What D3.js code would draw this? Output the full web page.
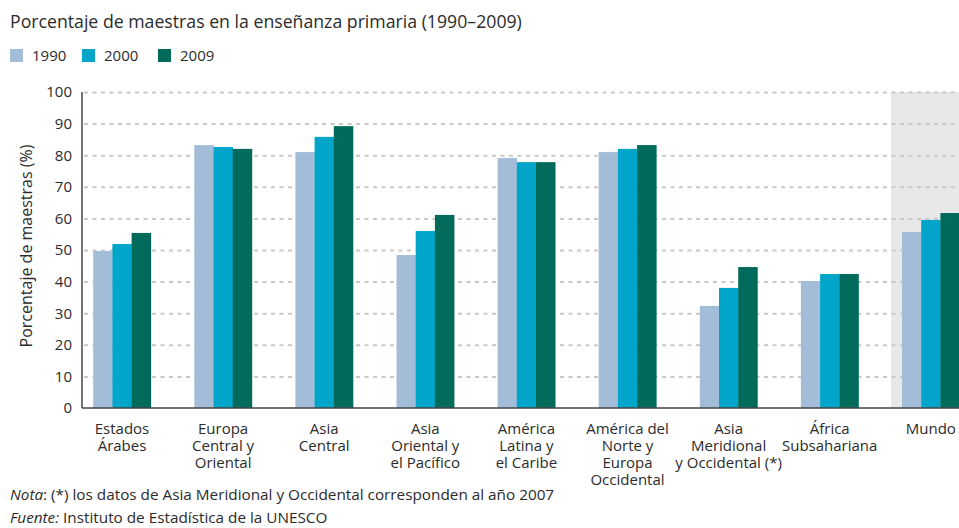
<!DOCTYPE html>
<html>
<head>
<meta charset="utf-8">
<script src="https://cdn.jsdelivr.net/npm/d3@7"></script>
<style>
  body { margin: 0; background: #fff; }
  text { font-family: "Open Sans", "DejaVu Sans", sans-serif; fill: #2b2b2b; }
</style>
</head>
<body>
<div id="area"></div>
<script>
// datos
var categorias = [
    ["Estados", "Árabes"],
    ["Europa", "Central y", "Oriental"],
    ["Asia", "Central"],
    ["Asia", "Oriental y", "el Pacífico"],
    ["América", "Latina y", "el Caribe"],
    ["América del", "Norte y", "Europa", "Occidental"],
    ["Asia", "Meridional", "y Occidental (*)"],
    ["África", "Subsahariana"],
    ["Mundo"]
];
var anios = ["1990", "2000", "2009"];
var colores = ["#a3bdd9", "#00a5c9", "#006b5b"];
var v1990 = [49.7, 83.2, 81.0, 48.4, 79.1, 81.0, 32.3, 40.2, 55.7];
var v2000 = [51.9, 82.6, 85.8, 56.0, 77.8, 82.0, 38.0, 42.4, 59.5];
var v2009 = [55.4, 82.0, 89.2, 61.1, 77.8, 83.2, 44.6, 42.4, 61.7];
var yTicks = [0, 10, 20, 30, 40, 50, 60, 70, 80, 90, 100];

var series = [v1990, v2000, v2009];
var nombres = categorias.map(function (c) { return c.join(" "); });

var width = 959, height = 528;
var margin = { top: 92, right: 959, bottom: 408, left: 82 };
var fs = 15;

var svg = d3.select("#area")
    .append("svg")
    .attr("width", width)
    .attr("height", height);

var step = 101.1;
var x = d3.scaleBand()
    .domain(nombres)
    .range([122 - step / 2, 122 - step / 2 + step * nombres.length])
    .paddingInner(0.43)
    .paddingOuter(0.215);
var xs = d3.scaleBand()
    .domain(anios)
    .range([0, x.bandwidth()]);
var y = d3.scaleLinear()
    .domain([0, 100])
    .range([margin.bottom, margin.top]);

// fondo gris de Mundo
var xm = x("Mundo") - (x.step() - x.bandwidth()) / 4;
svg.append("rect")
    .attr("x", xm)
    .attr("y", y(100))
    .attr("width", margin.right - xm)
    .attr("height", y(0) - y(100))
    .attr("fill", "#e8e8e8");

// lineas de la cuadricula + etiquetas
var gy = svg.append("g")
    .attr("transform", "translate(" + margin.left + ",0)")
    .call(d3.axisLeft(y).tickValues(yTicks).tickSize(-(margin.right - margin.left)).tickPadding(10));
gy.select(".domain").remove();
gy.selectAll(".tick line")
    .attr("x1", 2)
    .attr("stroke", "#c9c9c9")
    .attr("stroke-width", 2)
    .attr("stroke-dasharray", "4,4.5")
    .filter(function (d) { return d == 0; }).remove();
gy.selectAll(".tick text")
    .attr("font-size", fs)
    .attr("font-family", "Open Sans, DejaVu Sans, sans-serif")
    .attr("fill", "#2b2b2b");

// barras
var grupos = svg.append("g").selectAll("g")
    .data(nombres)
    .join("g")
    .attr("transform", function (d) { return "translate(" + x(d) + ",0)"; });
grupos.selectAll("rect")
    .data(function (d, i) { return anios.map(function (a, j) { return { anio: a, v: series[j][i], c: colores[j] }; }); })
    .join("rect")
    .attr("x", function (d) { return xs(d.anio); })
    .attr("y", function (d) { return y(d.v); })
    .attr("width", xs.bandwidth() + 0.3)
    .attr("height", function (d) { return y(0) - y(d.v); })
    .attr("fill", function (d) { return d.c; });

// ejes
svg.append("line")
    .attr("x1", margin.left).attr("x2", margin.left)
    .attr("y1", y(100)).attr("y2", y(0))
    .attr("stroke", "#444").attr("stroke-width", 1.5);
svg.append("line")
    .attr("x1", margin.left).attr("x2", margin.right)
    .attr("y1", y(0)).attr("y2", y(0))
    .attr("stroke", "#444").attr("stroke-width", 1.5);

// etiquetas de categorias
var lab = svg.append("g").selectAll("text")
    .data(categorias)
    .join("text")
    .attr("text-anchor", "middle")
    .attr("font-size", fs)
    .attr("transform", function (d, i) { return "translate(" + (x(nombres[i]) + x.bandwidth() / 2) + ",434)"; });
lab.selectAll("tspan")
    .data(function (d) { return d; })
    .join("tspan")
    .attr("x", 0)
    .attr("y", function (d, i) { return i * 17; })
    .text(function (d) { return d; });

// titulo eje y
svg.append("text")
    .attr("transform", "translate(32,246) rotate(-90)")
    .attr("text-anchor", "middle")
    .attr("font-size", 16)
    .text("Porcentaje de maestras (%)");

// titulo
svg.append("text")
    .attr("x", 10)
    .attr("y", 28)
    .attr("font-size", 17.7)
    .text("Porcentaje de maestras en la enseñanza primaria (1990–2009)");

// leyenda
var legX = [10, 82, 158];
var leg = svg.append("g").selectAll("g")
    .data(anios)
    .join("g")
    .attr("transform", function (d, i) { return "translate(" + legX[i] + ",49)"; });
leg.append("rect")
    .attr("width", 13).attr("height", 13)
    .attr("fill", function (d, i) { return colores[i]; });
leg.append("text")
    .attr("x", 22).attr("y", 12)
    .attr("font-size", fs)
    .text(function (d) { return d; });

// notas
var nota = svg.append("text").attr("x", 10).attr("y", 500).attr("font-size", 15.3);
nota.append("tspan").attr("font-style", "italic").text("Nota");
nota.append("tspan").text(": (*) los datos de Asia Meridional y Occidental corresponden al año 2007");
var fuente = svg.append("text").attr("x", 10).attr("y", 523).attr("font-size", 15.3);
fuente.append("tspan").attr("font-style", "italic").text("Fuente:");
fuente.append("tspan").text(" Instituto de Estadística de la UNESCO");
</script>
</body>
</html>
